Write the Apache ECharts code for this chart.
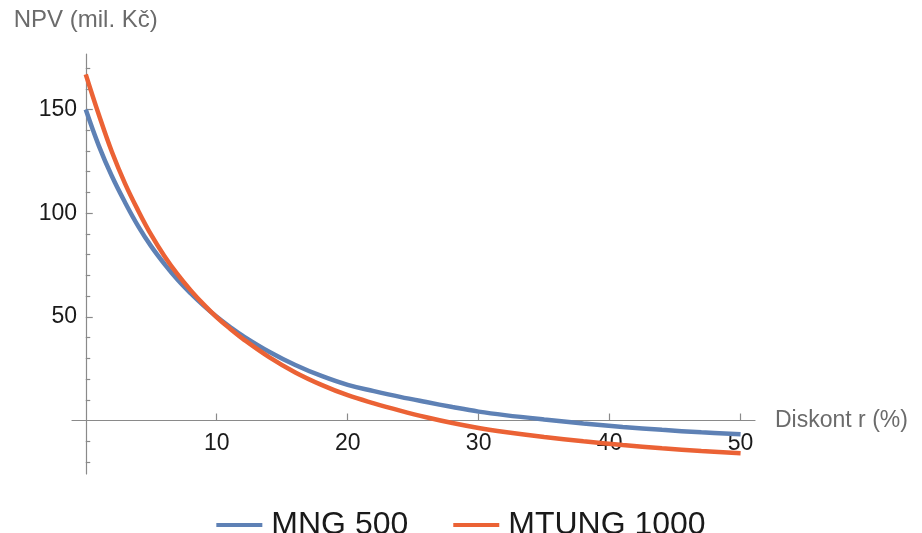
<!DOCTYPE html>
<html>
<head>
<meta charset="utf-8">
<script src="https://cdn.jsdelivr.net/npm/echarts@6/dist/echarts.min.js"></script>
<style>
  html, body { margin: 0; padding: 0; background: #fff; }
  #chart { width: 922px; height: 533px; }
</style>
</head>
<body>
<div id="chart"></div>
<script>
// Discount rate r (%) at which NPV was evaluated
const rates = [0, 1, 2, 3, 4, 5, 6, 7, 8, 9, 10, 11, 12, 14, 16, 18, 20, 22, 24, 26, 28, 30, 32, 35, 38, 41, 44, 47, 50];

// NPV in millions CZK
const npvMng500 = [150, 132.5, 117.8, 105.2, 93.8, 84, 75.6, 68, 61.4, 55.4, 50, 45.2, 40.8, 33.2, 26.8, 21.5, 17.2, 14.2, 11.4, 8.9, 6.5, 4.3, 2.6, 0.5, -1.4, -3.1, -4.5, -5.7, -6.6];
const npvMtung1000 = [167, 147.5, 129.5, 114.3, 101.3, 89.5, 79.4, 70.6, 62.9, 56, 49.8, 44.4, 39.4, 30.6, 23.2, 17.2, 12.2, 8.3, 4.8, 1.6, -1.2, -3.6, -5.5, -7.9, -10, -11.8, -13.4, -14.7, -15.8];

// Tick positions
const xTickLabels = [10, 20, 30, 40, 50];
const yMajorTicks = [50, 100, 150];
const yMinorTicks = [-20, -10, 10, 20, 30, 40, 60, 70, 80, 90, 110, 120, 130, 140, 160, 170];

const seriesNames = ['MNG 500', 'MTUNG 1000'];
const seriesColors = ['#5E81B5', '#EB6235'];

const axisGrey = '#8a8a8a';
const font = 'Liberation Sans, Arial, sans-serif';

function pairs(xs, ys) {
  return xs.map((x, i) => [x, ys[i]]);
}

const chart = echarts.init(document.getElementById('chart'), null, { renderer: 'canvas' });

chart.setOption({
  animation: false,
  backgroundColor: '#ffffff',
  grid: { left: 72, right: 167, top: 54, bottom: 59, containLabel: false },
  xAxis: {
    type: 'value',
    min: -1.05,
    max: 51.1,
    name: 'Diskont r (%)',
    nameLocation: 'end',
    nameGap: 20,
    nameTextStyle: { color: '#6b6b6b', fontSize: 23, fontFamily: font, verticalAlign: 'middle' },
    axisLine: { show: true, onZero: true, lineStyle: { color: axisGrey, width: 1.2 } },
    axisTick: { show: true, inside: true, length: 7, customValues: xTickLabels, lineStyle: { color: axisGrey, width: 1.2 } },
    // labels sit just under the zero line, above the grid's bottom edge
    axisLabel: { show: true, customValues: xTickLabels, color: '#1a1a1a', fontSize: 23, fontFamily: font, margin: -42 },
    splitLine: { show: false }
  },
  yAxis: [
    {
      type: 'value',
      min: -25.8,
      max: 176.8,
      name: 'NPV (mil. Kč)',
      nameLocation: 'end',
      nameGap: 22,
      nameTextStyle: { color: '#6b6b6b', fontSize: 24, fontFamily: font, align: 'center' },
      axisLine: { show: true, onZero: true, lineStyle: { color: axisGrey, width: 1.2 } },
      axisTick: { show: true, inside: true, length: 7, customValues: yMajorTicks, lineStyle: { color: axisGrey, width: 1.2 } },
      // labels sit just left of the zero line
      axisLabel: { show: true, customValues: yMajorTicks, color: '#1a1a1a', fontSize: 23, fontFamily: font, margin: -5, padding: [4, 0, 0, 0] },
      splitLine: { show: false }
    },
    {
      type: 'value',
      position: 'left',
      min: -25.8,
      max: 176.8,
      axisLine: { show: false, onZero: true, onZeroAxisIndex: 0 },
      axisTick: { show: true, inside: true, length: 4.5, customValues: yMinorTicks, lineStyle: { color: axisGrey, width: 1.2 } },
      axisLabel: { show: false },
      splitLine: { show: false }
    }
  ],
  legend: {
    left: 'center',
    top: 503,
    icon: 'rect',
    itemWidth: 46,
    itemHeight: 4,
    itemGap: 45,
    textStyle: { color: '#1a1a1a', fontSize: 32, fontFamily: font, padding: [0, 0, 0, 4], lineHeight: 34 },
    data: seriesNames
  },
  series: [
    {
      name: seriesNames[0],
      type: 'line',
      data: pairs(rates, npvMng500),
      smooth: 0.4,
      showSymbol: false,
      symbol: 'none',
      color: seriesColors[0],
      lineStyle: { color: seriesColors[0], width: 4.5 },
      z: 3
    },
    {
      name: seriesNames[1],
      type: 'line',
      data: pairs(rates, npvMtung1000),
      smooth: 0.4,
      showSymbol: false,
      symbol: 'none',
      color: seriesColors[1],
      lineStyle: { color: seriesColors[1], width: 4.5 },
      z: 4
    }
  ]
});
</script>
</body>
</html>
